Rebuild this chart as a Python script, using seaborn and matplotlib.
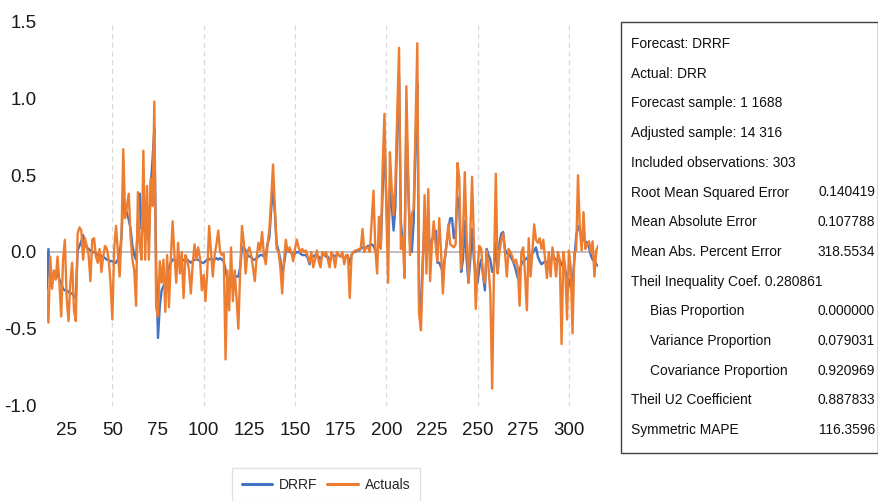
import numpy as np
import pandas as pd
import matplotlib
matplotlib.use("Agg")
import matplotlib.pyplot as plt
from matplotlib import font_manager
from matplotlib.patches import Rectangle
import seaborn as sns

# Observation index (adjusted sample 14..316)
obs = list(range(14, 317))

actuals = [
    -0.25, -0.46, -0.03, -0.24, -0.12, -0.18, -0.03, -0.20, -0.42, -0.05,   # 14-23
    0.08, -0.30, -0.45, -0.20, -0.07, -0.38, -0.45, 0.12, 0.16, 0.14,       # 24-33
    -0.05, 0.09, 0.04, -0.02, -0.19, 0.08, 0.09, -0.03, -0.07, 0.02,        # 34-43
    -0.13, -0.03, 0.04, 0.02, -0.05, -0.20, -0.44, 0.02, 0.17, 0.00,        # 44-53
    -0.16, 0.10, 0.67, 0.22, 0.30, 0.38, 0.10, -0.05, -0.12, -0.35,         # 54-63
    0.39, 0.05, -0.05, 0.66, -0.05, 0.43, -0.05, 0.48, 0.30, 0.98,          # 64-73
    -0.36, -0.42, -0.06, -0.20, -0.05, -0.39, -0.02, -0.36, -0.05, 0.20,    # 74-83
    -0.02, -0.20, 0.06, -0.14, 0.00, -0.30, -0.02, -0.05, -0.12, -0.27,     # 84-93
    -0.08, 0.05, -0.05, 0.03, -0.04, -0.25, -0.15, -0.32, -0.12, 0.17,      # 94-103
    0.00, -0.16, -0.02, 0.05, 0.14, 0.00, -0.02, -0.01, -0.70, -0.12,       # 104-113
    -0.38, 0.03, -0.32, -0.12, -0.30, -0.50, -0.12, 0.17, 0.06, -0.14,      # 114-123
    0.00, 0.03, -0.02, -0.10, -0.19, -0.04, 0.06, 0.01, 0.13, -0.02,        # 124-133
    -0.08, 0.05, 0.15, 0.35, 0.57, 0.30, 0.02, 0.00, -0.10, -0.27,          # 134-143
    -0.05, 0.08, 0.00, 0.03, 0.00, -0.06, 0.02, 0.08, 0.03, 0.00,           # 144-153
    0.02, 0.00, 0.01, -0.03, -0.07, 0.00, -0.10, -0.05, 0.01, -0.06,        # 154-163
    -0.10, 0.00, -0.02, 0.00, -0.05, -0.10, 0.00, -0.03, -0.10, 0.00,       # 164-173
    -0.02, -0.03, 0.00, -0.08, -0.02, -0.02, -0.30, -0.02, 0.00, 0.01,      # 174-183
    0.01, 0.02, 0.02, 0.15, 0.00, 0.03, 0.03, 0.00, 0.20, 0.40,             # 184-193
    0.02, -0.14, 0.23, 0.02, 0.55, 0.90, 0.30, -0.20, 0.65, 0.41,           # 194-203
    0.24, 0.44, 0.90, 1.33, 0.02, 0.10, -0.17, 1.08, 0.50, -0.02,           # 204-213
    0.25, 0.28, 0.80, 1.36, -0.41, -0.51, -0.10, 0.37, -0.14, 0.41,         # 214-223
    -0.19, 0.05, 0.20, 0.05, -0.06, 0.22, 0.00, -0.27, -0.05, 0.05,         # 224-233
    0.18, 0.05, 0.04, 0.03, 0.05, 0.58, 0.48, -0.11, 0.10, 0.52,            # 234-243
    0.10, -0.20, 0.10, 0.49, 0.05, -0.37, -0.10, 0.04, 0.02, -0.15,         # 244-253
    -0.20, 0.01, -0.10, -0.27, -0.89, -0.10, 0.51, -0.14, 0.00, 0.08,       # 254-263
    0.12, 0.00, -0.16, 0.02, 0.00, -0.03, -0.07, -0.05, -0.10, -0.35,       # 264-273
    0.00, 0.03, -0.15, -0.38, 0.09, -0.16, 0.00, 0.18, 0.08, 0.06,          # 274-283
    0.09, 0.02, 0.08, -0.05, -0.17, 0.00, -0.16, 0.03, -0.05, -0.16,        # 284-293
    0.00, -0.05, -0.60, 0.00, -0.10, -0.44, 0.01, -0.10, -0.53, 0.00,       # 294-303
    0.01, 0.50, 0.15, 0.01, 0.26, 0.02, 0.05, 0.07, 0.00, 0.07,             # 304-313
    -0.16, 0.01, 0.04,                                                      # 314-316
]

drrf = [
    -0.25, 0.02, -0.22, -0.16, -0.15, -0.14, -0.15, -0.18, -0.20, -0.24,    # 14-23
    -0.25, -0.25, -0.26, -0.27, -0.27, -0.29, -0.30, 0.01, 0.04, 0.07,      # 24-33
    0.11, 0.05, 0.03, 0.02, 0.01, 0.00, 0.00, -0.01, -0.02, -0.01,          # 34-43
    -0.03, -0.03, -0.04, -0.05, -0.05, -0.06, -0.06, -0.07, -0.07, -0.05,   # 44-53
    -0.02, 0.10, 0.36, 0.30, 0.25, 0.21, 0.15, 0.04, -0.02, -0.05,          # 54-63
    0.20, 0.38, 0.15, 0.20, 0.10, 0.12, 0.08, 0.43, 0.60, 0.80,             # 64-73
    -0.10, -0.56, -0.35, -0.25, -0.22, -0.20, -0.15, -0.10, -0.07, -0.05,   # 74-83
    -0.05, -0.06, -0.07, -0.07, -0.06, -0.05, -0.06, -0.05, -0.06, -0.07,   # 84-93
    -0.06, -0.05, -0.05, -0.05, -0.06, -0.07, -0.07, -0.06, -0.05, -0.05,   # 94-103
    -0.04, -0.05, -0.05, -0.04, -0.05, -0.04, -0.05, -0.06, -0.12, -0.18,   # 104-113
    -0.20, -0.23, -0.18, -0.15, -0.16, -0.16, -0.10, 0.03, 0.03, 0.01,      # 114-123
    -0.02, -0.03, -0.03, -0.05, -0.05, -0.04, -0.03, -0.02, -0.02, -0.03,   # 124-133
    -0.02, 0.05, 0.10, 0.28, 0.42, 0.25, 0.05, 0.01, -0.05, -0.15,          # 134-143
    -0.08, 0.00, 0.01, 0.00, 0.00, -0.02, -0.01, 0.00, 0.00, -0.01,         # 144-153
    -0.02, -0.02, -0.02, -0.04, -0.08, -0.03, -0.03, -0.02, -0.02, -0.03,   # 154-163
    -0.05, -0.02, -0.02, -0.03, -0.03, -0.07, -0.02, -0.02, -0.03, -0.02,   # 164-173
    -0.02, -0.03, -0.02, -0.05, -0.03, -0.03, -0.08, -0.02, 0.00, 0.00,     # 174-183
    0.01, 0.01, 0.02, 0.03, 0.03, 0.03, 0.04, 0.04, 0.05, 0.04,             # 184-193
    0.01, 0.00, 0.05, 0.03, 0.40, 0.75, 0.35, 0.05, 0.40, 0.30,             # 194-203
    0.14, 0.30, 0.80, 1.15, 0.20, 0.05, 0.00, 0.85, 0.45, 0.05,             # 204-213
    0.00, 0.20, 0.70, 1.10, -0.40, -0.35, -0.05, 0.20, -0.05, 0.15,         # 214-223
    0.00, 0.08, 0.10, 0.14, -0.07, -0.07, -0.10, -0.13, -0.05, 0.05,        # 224-233
    0.15, 0.22, 0.22, 0.09, 0.15, 0.36, 0.30, -0.13, -0.05, 0.20,           # 234-243
    -0.05, -0.20, -0.05, 0.15, -0.05, -0.15, -0.20, -0.10, -0.05, -0.15,    # 244-253
    -0.25, 0.02, -0.02, -0.05, -0.13, -0.10, 0.06, -0.13, 0.06, 0.12,       # 254-263
    0.13, 0.02, -0.01, 0.00, -0.03, -0.05, -0.08, -0.12, -0.17, -0.12,      # 264-273
    -0.08, -0.06, -0.05, -0.04, -0.03, -0.03, -0.01, 0.01, 0.03, -0.03,     # 274-283
    -0.06, -0.08, -0.07, -0.06, -0.07, -0.06, -0.05, -0.04, -0.04, -0.05,   # 284-293
    -0.06, -0.05, -0.08, -0.10, -0.12, -0.16, -0.18, -0.23, -0.20, -0.05,   # 294-303
    0.10, 0.17, 0.14, 0.10, 0.08, 0.07, 0.06, 0.03, -0.02, -0.05,           # 304-313
    -0.06, -0.08, -0.09,                                                    # 314-316
]

series_names = ["DRRF", "Actuals"]
series_colors = ["#4472C4", "#ED7D31"]

x_ticks = [25, 50, 75, 100, 125, 150, 175, 200, 225, 250, 275, 300]
y_ticks = [-1.0, -0.5, 0.0, 0.5, 1.0, 1.5]
grid_x = [50, 100, 150, 200, 250, 300]

stats_rows = [
    ("Forecast: DRRF", "", 0),
    ("Actual: DRR", "", 0),
    ("Forecast sample: 1 1688", "", 0),
    ("Adjusted sample: 14 316", "", 0),
    ("Included observations: 303", "", 0),
    ("Root Mean Squared Error", "0.140419", 0),
    ("Mean Absolute Error", "0.107788", 0),
    ("Mean Abs. Percent Error", "318.5534", 0),
    ("Theil Inequality Coef. 0.280861", "", 0),
    ("Bias Proportion", "0.000000", 1),
    ("Variance Proportion", "0.079031", 1),
    ("Covariance Proportion", "0.920969", 1),
    ("Theil U2 Coefficient", "0.887833", 0),
    ("Symmetric MAPE", "116.3596", 0),
]

sns.set_style("white")
installed = {f.name for f in font_manager.fontManager.ttflist}
base_font = "Liberation Sans Narrow" if "Liberation Sans Narrow" in installed else "Liberation Sans"
plt.rcParams["font.family"] = [base_font, "DejaVu Sans"]

df = pd.DataFrame({
    "obs": obs * 2,
    "value": drrf + actuals,
    "series": ["DRRF"] * len(drrf) + ["Actuals"] * len(actuals),
})

W, H = 879, 501
fig = plt.figure(figsize=(W / 100, H / 100), dpi=100)
left, right, top, bottom = 46.6, 598.1, 21.75, 405.5
ax = fig.add_axes([left / W, 1 - bottom / H, (right - left) / W, (bottom - top) / H])

for gx in grid_x:
    ax.axvline(gx, color="#d9d9d9", lw=0.9, ls=(0, (4, 3)), zorder=0)
ax.axhline(0, color="#b4b4b4", lw=1.2, zorder=1)

sns.lineplot(data=df, x="obs", y="value", hue="series", hue_order=series_names,
             palette=series_colors, linewidth=1.7, ax=ax, legend=True)

ax.set_xlim(14, 316)
ax.set_ylim(-1.0, 1.5)
ax.set_xticks(x_ticks)
ax.set_xticklabels([str(v) for v in x_ticks])
ax.set_yticks(y_ticks)
ax.set_yticklabels([f"{v:.1f}" for v in y_ticks])
ax.tick_params(axis="both", length=0, labelsize=13.5, colors="#1a1a1a")
ax.tick_params(axis="x", pad=12)
ax.tick_params(axis="y", pad=7)
ax.set_xlabel("")
ax.set_ylabel("")
for s in ax.spines.values():
    s.set_visible(False)

sns.move_legend(ax, "upper left", bbox_to_anchor=(232 / W, 1 - 468 / H),
                bbox_transform=fig.transFigure, ncol=2, title=None, frameon=True,
                fontsize=10, handlelength=2.2, columnspacing=0.7, handletextpad=0.5,
                borderpad=0.7, fancybox=False, borderaxespad=0)
leg = ax.get_legend()
leg.get_frame().set_edgecolor("#d9d9d9")
leg.get_frame().set_linewidth(0.9)
for ln in leg.get_lines():
    ln.set_linewidth(2.2)

# statistics panel
box_l, box_t, box_r, box_b = 621, 22, 878, 453
fig.patches.append(Rectangle((box_l / W, 1 - box_b / H), (box_r - box_l) / W,
                             (box_b - box_t) / H, transform=fig.transFigure,
                             fill=False, edgecolor="#404040", linewidth=1.0))
row_y0, row_dy = 44, 29.7
for i, (label, val, indent) in enumerate(stats_rows):
    y = 1 - (row_y0 + i * row_dy) / H
    fig.text((631 + 19 * indent) / W, y, label, ha="left", va="center",
             fontsize=9.9, color="#111111")
    if val:
        fig.text(875 / W, y, val, ha="right", va="center", fontsize=9.9, color="#111111")

fig.savefig("out.png", dpi=100)
